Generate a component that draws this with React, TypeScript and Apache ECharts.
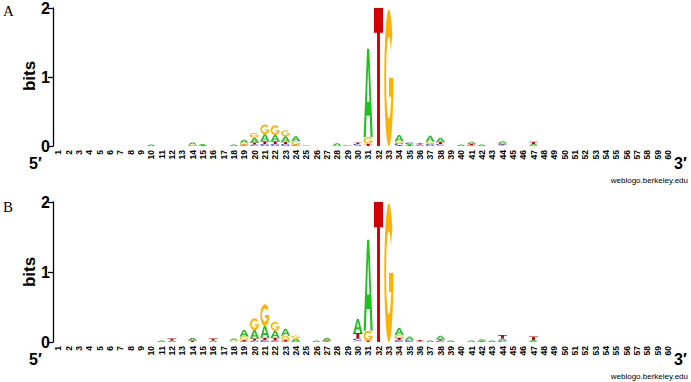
import React, { useEffect, useRef } from "react";
import * as echarts from "echarts";

const POSITIONS: string[] = Array.from({ length: 60 }, (_, i) => String(i + 1));
const LETTERS = ["A", "C", "G", "T"];
const COLORS = ["#1FC21F", "#2233CC", "#FFB300", "#D00000"];

// Panel A (bits per letter, positions 1..60)
const A_A = [0,0,0,0,0,0,0,0,0,.02, 0,0,0,.03,.02,0,0,.02,.04,.07, .10,.09,.08,.07,.01,0,0,.03,0,.01, 1.28,0,0,.09,.02,.01,.09,.06,0,.02, .03,.02,0,.03,0,0,.02,0,0,0, 0,0,0,0,0,0,0,0,0,0];
const A_C = [0,0,0,0,0,0,0,0,0,0, 0,0,0,.01,0,0,0,0,.01,.02, .03,.03,.03,.01,0,0,0,.01,.01,.02, 0,0,0,.03,.02,.01,.03,.02,0,0, .01,0,0,.02,0,0,.01,0,0,0, 0,0,0,0,0,0,0,0,0,0];
const A_G = [0,0,0,0,0,0,0,0,0,0, 0,0,0,.01,0,0,0,0,.03,.07, .14,.14,.09,.05,0,0,0,0,0,0, .10,0,1.98,.03,0,0,.03,.01,0,0, 0,0,0,.01,0,0,0,0,0,0, 0,0,0,0,0,0,0,0,0,0];
const A_T = [0,0,0,0,0,0,0,0,0,0, 0,0,0,0,.01,0,0,0,.01,.03, .04,.04,.03,.01,0,0,0,0,0,.02, .03,2.0,0,.01,.01,.02,0,.03,0,0, .02,0,0,.01,0,0,.03,0,0,0, 0,0,0,0,0,0,0,0,0,0];

// Panel B
const B_A = [0,0,0,0,0,0,0,0,0,0, .02,.02,0,.04,0,.02,0,.03,.09,.12, .17,.10,.10,.04,0,.02,.04,0,0,.20, 1.30,0,0,.10,.05,.01,.02,.05,.02,0, .02,.03,.02,.03,0,0,.02,0,0,0, 0,0,0,0,0,0,0,0,0,0];
const B_C = [0,0,0,0,0,0,0,0,0,0, 0,0,0,0,0,0,0,0,.01,.02, .03,.02,.01,.01,0,0,.01,0,0,.03, 0,0,0,.03,.03,0,0,.02,0,0, 0,0,0,.02,0,0,.01,0,0,0, 0,0,0,0,0,0,0,0,0,0];
const B_G = [0,0,0,0,0,0,0,0,0,0, 0,0,0,0,0,0,0,.02,.05,.17, .31,.13,.06,.04,0,0,0,0,0,.02, .14,0,1.98,.04,0,0,0,0,0,0, 0,0,0,0,0,0,0,0,0,0, 0,0,0,0,0,0,0,0,0,0];
const B_T = [0,0,0,0,0,0,0,0,0,0, 0,.03,0,.02,0,.03,0,0,.02,.03, .03,.04,.02,0,0,0,.01,0,0,.08, .02,2.0,0,.03,0,.02,0,.02,0,0, 0,.01,0,.05,0,0,.05,0,0,0, 0,0,0,0,0,0,0,0,0,0];

const PATHS = [
  "M0,100 L38,0 L62,0 L100,100 L76,100 L68,76 L32,76 L24,100 Z M36,60 L64,60 L50,20 Z",
  "M88.3,17.9 A50,50 0 1 0 88.3,82.1 L73,69.3 A30,30 0 1 1 73,30.7 Z",
  "M88.3,17.9 A50,50 0 1 0 100,50 L52,50 L52,64 L76.5,64 A30,30 0 1 1 73,30.7 Z",
  "M0,0 L100,0 L100,18 L66,18 L66,100 L34,100 L34,18 L0,18 Z",
];

function buildStacks(cols: number[][]) {
  const out: any[] = [];
  for (let i = 0; i < 60; i++) {
    const items = cols.map((c, l) => ({ l, h: c[i] })).filter((d) => d.h > 0);
    items.sort((a, b) => a.h - b.h);
    let base = 0;
    for (const it of items) {
      out.push([i, base, it.h, it.l]);
      base += it.h;
    }
  }
  return out;
}

function renderItem(params: any, api: any) {
  const idx = api.value(0);
  const base = api.value(1);
  const h = api.value(2);
  const l = api.value(3);
  const p0 = api.coord([idx, base]);
  const p1 = api.coord([idx, base + h]);
  const bw = api.size([1, 0])[0] * 0.88;
  return {
    type: "path",
    shape: {
      pathData: PATHS[l],
      x: p0[0] - bw / 2,
      y: p1[1],
      width: bw,
      height: Math.max(0.3, p0[1] - p1[1]),
      layout: "cover",
    },
    style: { fill: COLORS[l] },
  };
}

const FONT = "'Liberation Sans', Arial, sans-serif";

export default function App() {
  const ref = useRef<HTMLDivElement>(null);
  useEffect(() => {
    document.body.style.margin = "0";
    const chart = echarts.init(ref.current!, null, { renderer: "svg" });
    const grids = [
      { left: 53, width: 620, top: 6, height: 140 },
      { left: 53, width: 620, top: 202, height: 140 },
    ];
    const xAxis = grids.map((_, gi) => ({
      type: "category",
      gridIndex: gi,
      data: POSITIONS,
      boundaryGap: true,
      axisLine: { show: false },
      axisTick: { show: false },
      axisLabel: {
        interval: 0,
        rotate: 90,
        fontSize: 8.5,
        fontWeight: "bold",
        fontFamily: FONT,
        color: "#000",
        margin: 4,
      },
    }));
    const yAxis = grids.map((_, gi) => ({
      type: "value",
      gridIndex: gi,
      min: 0,
      max: 2,
      interval: 1,
      splitLine: { show: false },
      axisLine: { show: true, lineStyle: { color: "#000", width: 1.3 } },
      axisTick: { show: true, length: 5, lineStyle: { color: "#000", width: 1.3 } },
      axisLabel: { fontSize: 16, fontWeight: "bold", fontFamily: FONT, color: "#000", margin: 3 },
    }));
    const texts: any[] = [];
    [0, 196].forEach((dy, gi) => {
      texts.push(
        { type: "text", left: 3, top: 3 + dy, style: { text: gi === 0 ? "A" : "B", font: "15px 'Liberation Serif', serif", fill: "#000" } },
        { type: "text", x: 29, y: 76 + dy, rotation: Math.PI / 2, style: { text: "bits", font: `bold 17px ${FONT}`, fill: "#000", align: "center", verticalAlign: "middle" } },
        { type: "text", left: 29, top: 155 + dy, style: { text: "5\u2032", font: `bold 16px ${FONT}`, fill: "#000" } },
        { type: "text", left: 674, top: 155 + dy, style: { text: "3\u2032", font: `bold 16px ${FONT}`, fill: "#000" } },
        { type: "text", right: 3, top: 176 + dy, style: { text: "weblogo.berkeley.edu", font: `8px ${FONT}`, fill: "#000" } }
      );
    });
    chart.setOption({
      animation: false,
      grid: grids,
      xAxis,
      yAxis,
      graphic: texts,
      series: [
        { type: "custom", xAxisIndex: 0, yAxisIndex: 0, renderItem, data: buildStacks([A_A, A_C, A_G, A_T]), encode: { x: 0, y: [1, 2] }, silent: true },
        { type: "custom", xAxisIndex: 1, yAxisIndex: 1, renderItem, data: buildStacks([B_A, B_C, B_G, B_T]), encode: { x: 0, y: [1, 2] }, silent: true },
      ],
    });
    return () => chart.dispose();
  }, []);
  return <div ref={ref} style={{ position: "absolute", left: 0, top: 0, width: 691, height: 382 }} />;
}
